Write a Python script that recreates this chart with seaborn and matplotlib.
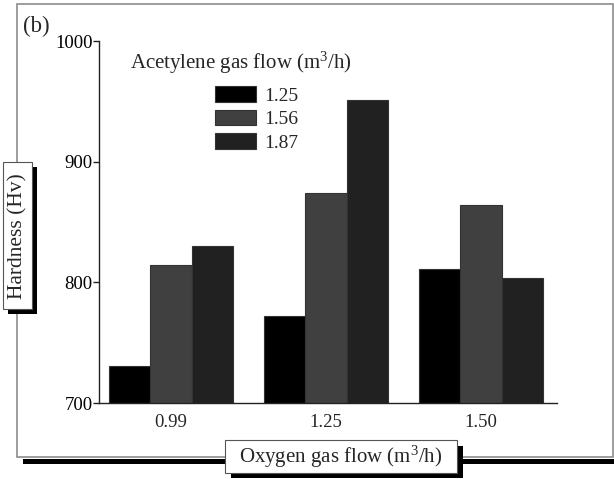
import matplotlib
matplotlib.use("Agg")
import matplotlib.pyplot as plt
import seaborn as sns
import pandas as pd
from matplotlib.patches import Rectangle

# ---- data ----
oxygen = ["0.99", "1.25", "1.50"]
acetylene = ["1.25", "1.56", "1.87"]
hard_125 = [731, 772, 811]
hard_156 = [814, 874, 864]
hard_187 = [830, 951, 804]
colors = ["#000000", "#404040", "#212121"]

rows = []
for ac, vals in zip(acetylene, [hard_125, hard_156, hard_187]):
    for ox, v in zip(oxygen, vals):
        rows.append({"Oxygen": ox, "Acetylene": ac, "Hardness": v})
df = pd.DataFrame(rows)

sns.set_theme(style="white")
plt.rcParams["font.family"] = ["Liberation Serif", "DejaVu Serif"]
plt.rcParams["mathtext.fontset"] = "custom"
plt.rcParams["mathtext.rm"] = "Liberation Serif"
plt.rcParams["mathtext.it"] = "Liberation Serif"

W, H = 614, 479
fig = plt.figure(figsize=(W / 100, H / 100), dpi=100)


def fx(x):
    return x / W


def fy(y):
    return 1 - y / H


def add_rect(x0, y0, x1, y1, **kw):
    r = Rectangle((fx(x0), fy(y1)), fx(x1) - fx(x0), fy(y0) - fy(y1),
                  transform=fig.transFigure, **kw)
    fig.add_artist(r)
    return r


# outer frame and its shadow
add_rect(23, 459, 616, 464, facecolor="black", edgecolor="none", zorder=0)
add_rect(17, 4, 613, 457, facecolor="none", edgecolor="#8c8c8c", lw=1.2, zorder=0.5)

ax = fig.add_axes([fx(99), fy(403), fx(557) - fx(99), fy(41) - fy(403)])
ax.patch.set_visible(False)

sns.barplot(data=df, x="Oxygen", y="Hardness", hue="Acetylene",
            order=oxygen, hue_order=acetylene, palette=colors,
            width=0.8, edgecolor="#333333", linewidth=0.8, ax=ax,
            legend=True)

ax.set_ylim(700, 1000)
ax.set_xlim(-0.465, 2.49)
ax.set_yticks([700, 800, 900, 1000])
ax.set_xlabel("")
ax.set_ylabel("")
for s in ["top", "right"]:
    ax.spines[s].set_visible(False)
for s in ["left", "bottom"]:
    ax.spines[s].set_color("#222222")
    ax.spines[s].set_linewidth(1.0)
ax.tick_params(axis="y", direction="out", length=4, width=1.0, pad=0.5,
               labelsize=13.5, colors="#222222", labelcolor="black", left=True)
ax.tick_params(axis="x", length=0, pad=8, labelsize=13.5)

# legend
handles, labels = ax.get_legend_handles_labels()
ax.legend(handles, labels, loc="upper left",
          bbox_to_anchor=(fx(215), fy(86)), bbox_transform=fig.transFigure,
          frameon=False, fontsize=14, handlelength=2.1, handleheight=0.88,
          labelspacing=0.25, handletextpad=0.45, borderpad=0, borderaxespad=0)
fig.text(fx(130), fy(63), "Acetylene gas flow (m$^3$/h)", fontsize=15,
         ha="left", va="center")

# panel label
fig.text(fx(23), fy(26), "(b)", fontsize=16.5, ha="left", va="center")

# y label box
add_rect(8, 167, 37, 314, facecolor="black", edgecolor="none", zorder=2)
add_rect(3, 162, 32, 309, facecolor="white", edgecolor="#555555", lw=0.8, zorder=3)
fig.text(fx(18), fy(236), "Hardness (Hv)", rotation=90, fontsize=15.5,
         ha="center", va="center", zorder=4)

# x label box
add_rect(231, 446, 463, 478, facecolor="black", edgecolor="none", zorder=2)
add_rect(225, 440, 457, 473, facecolor="white", edgecolor="#555555", lw=0.8, zorder=3)
fig.text(fx(341), fy(457), "Oxygen gas flow (m$^3$/h)", fontsize=15,
         ha="center", va="center", zorder=4)

fig.savefig("out.png", dpi=100)
